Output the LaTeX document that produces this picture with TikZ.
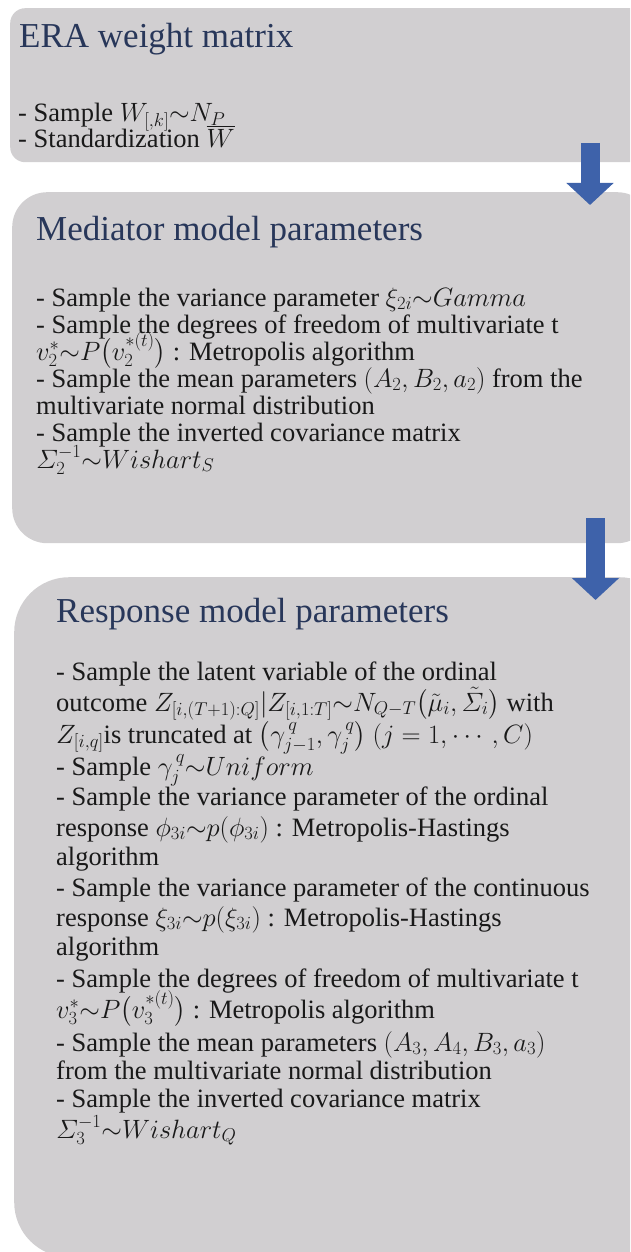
\RequirePackage{fix-cm}
\documentclass[tikz,border=0pt]{standalone}
\usepackage{amsmath}
\usepackage{fontspec}
\setmainfont{Liberation Serif}
\usetikzlibrary{arrows.meta}
\definecolor{boxfill}{RGB}{209,207,209}
\definecolor{titlecol}{RGB}{40,55,90}
\definecolor{arrowcol}{RGB}{62,98,170}
\definecolor{textcol}{RGB}{25,25,25}
\begin{document}
\begin{tikzpicture}[x=1pt,y=-1pt,
  panel/.style={fill=boxfill, draw=none, inner sep=0pt, anchor=north west},
  ttl/.style={anchor=base west, inner sep=0pt, text=titlecol, font=\fontsize{35}{40}\selectfont},
  body/.style={anchor=base west, inner sep=0pt, text=textcol, font=\fontsize{26.5}{30}\selectfont},
  flow/.style={draw=arrowcol, line width=19pt, -{Triangle[length=22pt,width=46pt]}}]
\useasboundingbox (0,0) rectangle (630,1252);
\clip (0,0) rectangle (630,1252);
% panels
\node[panel, rounded corners=15pt, minimum width=650pt, minimum height=154pt] (box1) at (10,8) {};
\node[panel, rounded corners=35pt, minimum width=640pt, minimum height=351pt] (box2) at (12,192) {};
\node[panel, rounded corners=55pt, minimum width=660pt, minimum height=680pt] (box3) at (14,577) {};
% box 1
\node[ttl] (t1) at (19,48) {ERA weight matrix};
\node[body] (b1l1) at (18,122) {- Sample $W_{[,k]}{\sim}N_P$};
\node[body] (b1l2) at (18,148) {- Standardization $\overline{W}$};
% box 2
\node[ttl] (t2) at (36,240) {Mediator model parameters};
\node[body] (b2l1) at (36,306) {- Sample the variance parameter $\xi_{2i}{\sim}Gamma$};
\node[body] (b2l2) at (36,333) {- Sample the degrees of freedom of multivariate t};
\node[body] (b2l3) at (36,360) {$v_2^*{\sim}P\bigl(v_2^{*(t)}\bigr)$ : Metropolis algorithm};
\node[body] (b2l4) at (36,387) {- Sample the mean parameters $(A_2,B_2,a_2)$ from the};
\node[body] (b2l5) at (36,414) {multivariate normal distribution};
\node[body] (b2l6) at (36,441) {- Sample the inverted covariance matrix};
\node[body] (b2l7) at (36,468) {$\varSigma_2^{-1}{\sim}Wishart_S$};
% box 3
\node[ttl] (t3) at (56,622) {Response model parameters};
\node[body] (b3l1) at (56,680) {- Sample the latent variable of the ordinal};
\node[body] (b3l2) at (56,711) {outcome $Z_{[i,(T+1):Q]}|Z_{[i,1:T]}{\sim}N_{Q-T}\bigl(\tilde{\mu}_i,\tilde{\varSigma}_i\bigr)$ with};
\node[body] (b3l3) at (56,743) {$Z_{[i,q]}$is truncated at $\bigl(\gamma_{j-1}^{\,q},\gamma_j^{\,q}\bigr)$ $(j=1,\cdots,C)$};
\node[body] (b3l4) at (56,775) {- Sample $\gamma_j^{\,q}{\sim}Uniform$};
\node[body] (b3l5) at (56,805) {- Sample the variance parameter of the ordinal};
\node[body] (b3l6) at (56,836) {response $\phi_{3i}{\sim}p(\phi_{3i})$ : Metropolis-Hastings};
\node[body] (b3l7) at (56,865) {algorithm};
\node[body] (b3l8) at (56,896) {- Sample the variance parameter of the continuous};
\node[body] (b3l9) at (56,926) {response $\xi_{3i}{\sim}p(\xi_{3i})$ : Metropolis-Hastings};
\node[body] (b3l10) at (56,955) {algorithm};
\node[body] (b3l11) at (56,987) {- Sample the degrees of freedom of multivariate t};
\node[body] (b3l12) at (56,1018) {$v_3^*{\sim}P\bigl(v_3^{*(t)}\bigr)$ : Metropolis algorithm};
\node[body] (b3l13) at (56,1051) {- Sample the mean parameters $(A_3,A_4,B_3,a_3)$};
\node[body] (b3l14) at (56,1079) {from the multivariate normal distribution};
\node[body] (b3l15) at (56,1107) {- Sample the inverted covariance matrix};
\node[body] (b3l16) at (56,1138) {$\varSigma_3^{-1}{\sim}Wishart_Q$};
% arrows
\coordinate (a1s) at (590,143);
\coordinate (a1e) at (590,205);
\coordinate (a2s) at (595.5,518);
\coordinate (a2e) at (595.5,600);
\draw[flow] (a1s) -- (a1e);
\draw[flow] (a2s) -- (a2e);
\end{tikzpicture}
\end{document}
